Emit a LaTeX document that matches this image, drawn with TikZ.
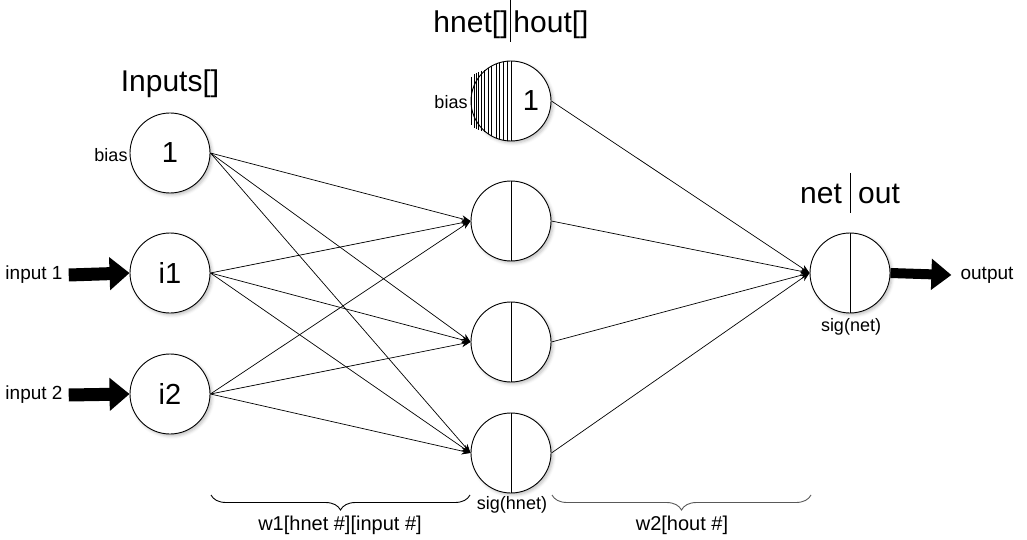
\documentclass[tikz,border=0pt]{standalone}
\usepackage{fontspec}
\setmainfont{Liberation Sans}
\usetikzlibrary{arrows.meta,decorations.pathreplacing,shadows.blur}
\begin{document}
\begin{tikzpicture}[x=1pt,y=-1pt,
  neuron/.style={circle,draw,line width=0.9pt,minimum size=80pt,inner sep=0pt,fill=white,
    font=\fontsize{29}{30}\selectfont,
    blur shadow={shadow xshift=2pt,shadow yshift=-2pt,shadow blur radius=3pt,shadow opacity=25}},
  numtext/.style={inner sep=0pt,font=\fontsize{29}{30}\selectfont},
  titletext/.style={inner sep=0pt,font=\fontsize{30}{32}\selectfont},
  smalltext/.style={inner sep=0pt,font=\fontsize{19}{21}\selectfont},
  sigtext/.style={inner sep=0pt,font=\fontsize{18}{20}\selectfont},
  wtext/.style={inner sep=0pt,font=\fontsize{20}{22}\selectfont},
  edge/.style={draw,line width=0.7pt,-{Stealth[length=9pt,width=7pt]}},
  fatin/.style={draw,line width=13pt,-{Triangle[length=20pt,width=32pt]}},
  fatout/.style={draw,line width=10pt,-{Triangle[length=20pt,width=30pt]}},
  divider/.style={draw,line width=0.8pt},
  hatch/.style={draw,line width=0.7pt},
  bracestyle/.style={draw,line width=0.9pt,decorate,decoration={brace,mirror,amplitude=15pt,aspect=0.5}}
]
\useasboundingbox (0,0) rectangle (1027,540);

% titles
\node[titletext] (tin) at (170,84) {Inputs[]};
\node[titletext] (thnet) at (471,25) {hnet[]};
\node[titletext] (thout) at (551,25) {hout[]};
\draw[divider] (510,0) -- (510,42);
\node[titletext] (tnet) at (821,194) {net};
\node[titletext] (tout) at (879,194) {out};
\draw[divider] (850,173) -- (850,213);

% input layer
\node[neuron] (ib) at (170,153) {1};
\node[neuron] (i1) at (170,273) {i1};
\node[neuron] (i2) at (170,394) {i2};
\node[sigtext] (ibias) at (111,155) {bias};
\node[smalltext] (in1) at (34,275) {input 1};
\node[smalltext] (in2) at (34,395) {input 2};

% hidden layer
\node[neuron] (hb) at (511,101) {};
\node[neuron] (h1) at (511,221) {};
\node[neuron] (h2) at (511,342) {};
\node[neuron] (h3) at (511,453) {};
\node[sigtext] (hbias) at (451,102) {bias};
\node[numtext] (hbone) at (531,101) {1};
\node[sigtext] (sigh) at (512,505) {sig(hnet)};

% hatching of the hidden bias
\foreach \dx/\hh in {-39.3/24,-37/27,-35/28,-32.7/29,-29.3/30,-27/31,-22.7/33,-19.3/35,-14.3/37.4,-11.7/38.2,-7.7/39.3,-3.7/39.8}
  \draw[hatch] ([xshift=\dx pt,yshift=\hh pt]hb.center) -- ([xshift=\dx pt,yshift=-\hh pt]hb.center);
\foreach \n in {hb,h1,h2,h3}
  \draw[divider] (\n.north) -- (\n.south);

% output layer
\node[neuron] (o) at (850,273) {};
\draw[divider] (o.north) -- (o.south);
\node[sigtext] (sigo) at (851,327) {sig(net)};
\node[smalltext] (outl) at (987,275) {output};

% connections
\foreach \s in {ib,i1,i2}
  \foreach \t in {h1,h2,h3}
    \path[edge] (\s.east) -- (\t.west);
\foreach \s in {hb,h1,h2,h3}
  \path[edge] (\s.east) -- (o.west);

% thick arrows
\path[fatin] ([xshift=6pt]in1.east) -- (i1.west);
\path[fatin] ([xshift=6pt]in2.east) -- (i2.west);
\path[fatout] (o.east) -- ([xshift=-9pt]outl.west);

% braces
\coordinate (b1l) at (211,495);
\coordinate (b1r) at (470,495);
\coordinate (b2l) at (552,495);
\coordinate (b2r) at (811,495);
\path[bracestyle] (b1l) -- (b1r);
\path[bracestyle,draw=black!65] (b2l) -- (b2r);
\node[wtext] (w1) at (340,525) {w1[hnet \#][input \#]};
\node[wtext] (w2) at (682,525) {w2[hout \#]};
\end{tikzpicture}
\end{document}
